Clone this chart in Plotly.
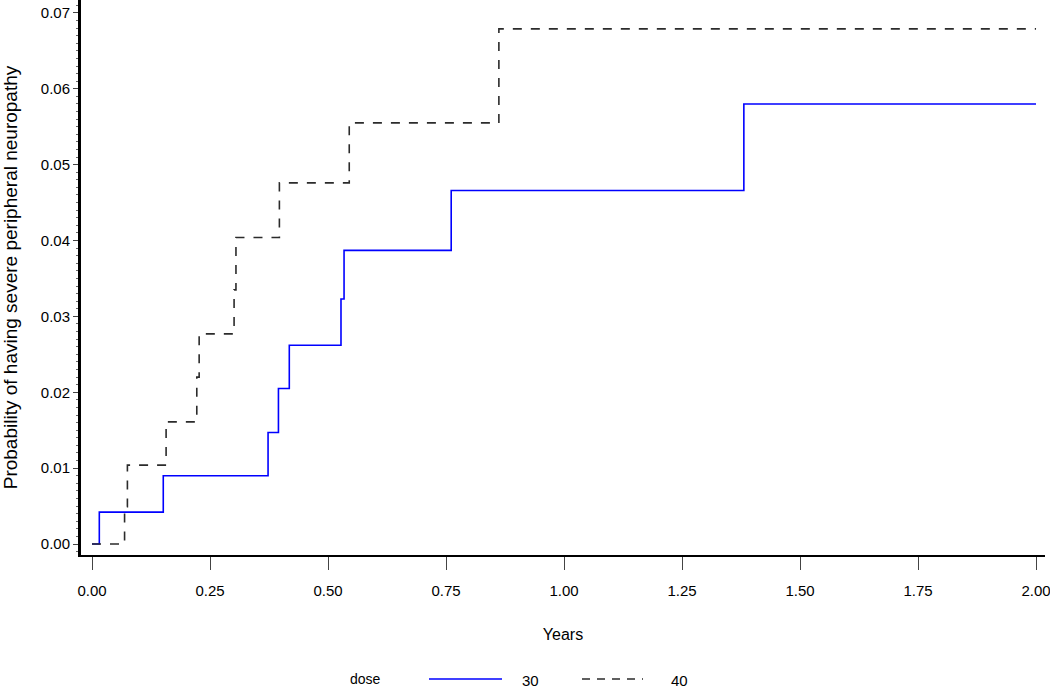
import plotly.graph_objects as go

# Cumulative incidence, dose 30 (blue solid)
t30 = [0.0, 0.0155, 0.151, 0.373, 0.395, 0.418, 0.5275, 0.534, 0.761, 1.381, 2.0]
p30 = [0.0, 0.0042, 0.0090, 0.0147, 0.0205, 0.0262, 0.0323, 0.0387, 0.0466, 0.0580, 0.0580]

# Cumulative incidence, dose 40 (black dashed)
t40 = [0.0, 0.069, 0.075, 0.157, 0.222, 0.227, 0.301, 0.305, 0.397, 0.545, 0.862, 2.0]
p40 = [0.0, 0.0049, 0.0104, 0.0161, 0.0220, 0.0277, 0.0335, 0.0404, 0.0476, 0.0555, 0.0679, 0.0679]

x_ticks = [0.0, 0.25, 0.5, 0.75, 1.0, 1.25, 1.5, 1.75, 2.0]
y_ticks = [0.0, 0.01, 0.02, 0.03, 0.04, 0.05, 0.06, 0.07]
legend_title = "dose"
series_names = ["30", "40"]

FONT = "Liberation Sans, Arial, Helvetica, sans-serif"

fig = go.Figure()
fig.add_trace(go.Scatter(x=t30, y=p30, mode="lines", line_shape="hv", name=series_names[0],
                         line=dict(color="#0000ff", width=1.6), showlegend=False))
fig.add_trace(go.Scatter(x=t40, y=p40, mode="lines", line_shape="hv", name=series_names[1],
                         line=dict(color="#2b2b2b", width=1.6, dash="9px,9px"), showlegend=False))

fig.update_layout(
    width=1050, height=689,
    margin=dict(l=81, r=5, t=0, b=134),
    paper_bgcolor="white", plot_bgcolor="white",
    font=dict(family=FONT, color="black"),
    showlegend=False,
)
fig.update_xaxes(
    range=[-0.0233, 2.019], tickvals=x_ticks, ticktext=[f"{v:.2f}" for v in x_ticks],
    showgrid=False, zeroline=False, showline=True, linecolor="black", linewidth=2,
    ticks="outside", ticklen=13, tickwidth=1, tickcolor="#444",
    ticklabelstandoff=8, ticklabeloverflow="allow",
    tickfont=dict(size=15, family=FONT),
    title=dict(text="Years", font=dict(size=16, family=FONT), standoff=31),
    automargin=False,
)
fig.update_yaxes(
    range=[-0.00145, 0.0717], tickvals=y_ticks, ticktext=[f"{v:.2f}" for v in y_ticks],
    showgrid=False, zeroline=False, showline=True, linecolor="black", linewidth=3,
    ticks="outside", ticklen=5, tickwidth=1, tickcolor="#444",
    minor=dict(dtick=0.001, tick0=0, ticks="outside", ticklen=2, tickcolor="#666", tickwidth=1),
    tickfont=dict(size=15, family=FONT),
    title=dict(text="Probability of having severe peripheral neuropathy",
               font=dict(size=19, family=FONT), standoff=19),
    automargin=False,
)

# Legend row (drawn below the plot)
def px_x(px):
    return (px - 81) / 964.0

def px_y(py):
    return (555 - py) / 555.0

ly = px_y(679)
fig.add_annotation(x=px_x(348), y=px_y(679), xref="paper", yref="paper", text=legend_title,
                   showarrow=False, xanchor="left", yanchor="middle", font=dict(size=14, family=FONT))
fig.add_shape(type="line", xref="paper", yref="paper", x0=px_x(429), x1=px_x(502), y0=ly, y1=ly,
              line=dict(color="#0000ff", width=1.6))
fig.add_annotation(x=px_x(520), y=px_y(680), xref="paper", yref="paper", text=series_names[0],
                   showarrow=False, xanchor="left", yanchor="middle", font=dict(size=15, family=FONT))
fig.add_shape(type="line", xref="paper", yref="paper", x0=px_x(582), x1=px_x(643), y0=ly, y1=ly,
              line=dict(color="#2b2b2b", width=1.6, dash="8px,7px"))
fig.add_annotation(x=px_x(669), y=px_y(680), xref="paper", yref="paper", text=series_names[1],
                   showarrow=False, xanchor="left", yanchor="middle", font=dict(size=15, family=FONT))

fig.write_html("out.html", config={"displayModeBar": False},
               post_script="document.body.style.margin='0px';document.body.style.overflow='hidden';")
